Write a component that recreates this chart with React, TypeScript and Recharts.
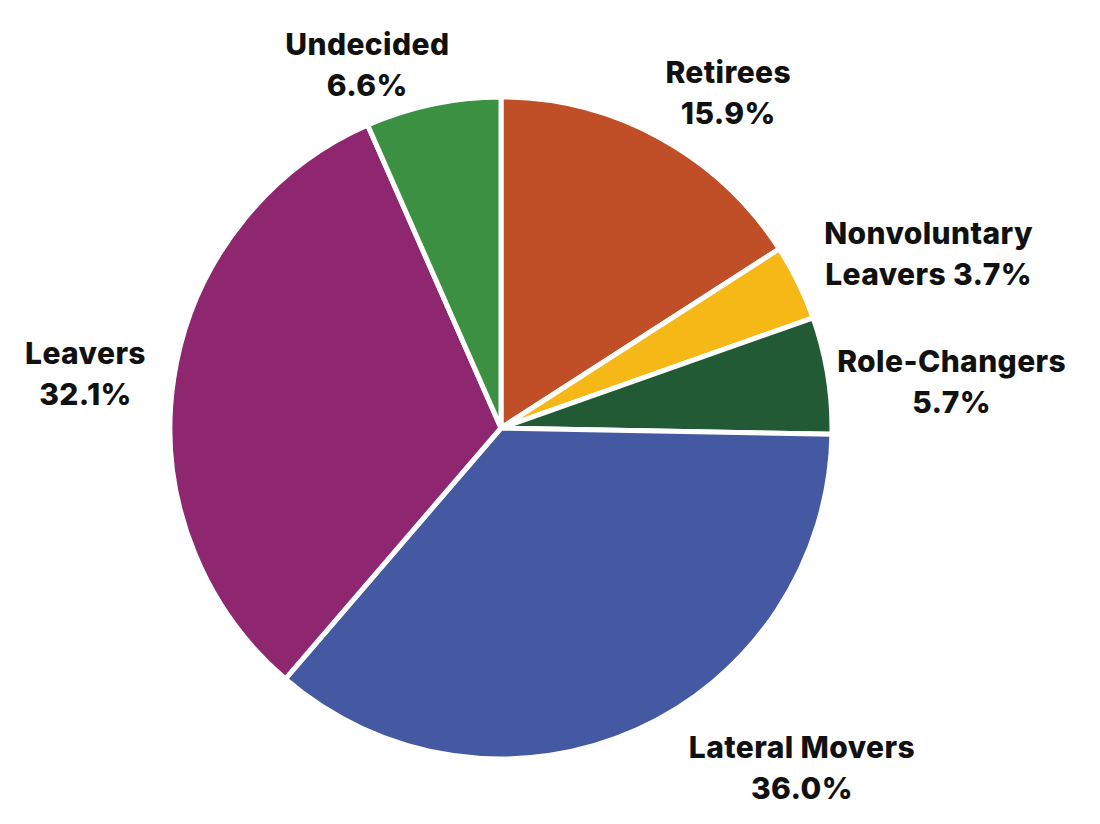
import React from "react";
import { PieChart, Pie, Cell } from "recharts";

const categories = [
  "Retirees",
  "Nonvoluntary Leavers",
  "Role-Changers",
  "Lateral Movers",
  "Leavers",
  "Undecided",
];
const shares = [15.9, 3.7, 5.7, 36.0, 32.1, 6.6];
const labelLines = [
  ["Retirees", "15.9%"],
  ["Nonvoluntary", "Leavers 3.7%"],
  ["Role-Changers", "5.7%"],
  ["Lateral Movers", "36.0%"],
  ["Leavers", "32.1%"],
  ["Undecided", "6.6%"],
];
const colors = ["#C04F27", "#F6B817", "#225A35", "#4559A3", "#8E276F", "#3C9042"];

// label placement nudges (pixels) relative to a point outside each slice
const labelNudge = [
  [28, 28],
  [54, 7],
  [40, 18],
  [131, -42],
  [-4, 5],
  [-48, 42],
];

const data = categories.map((name, i) => ({ name, value: shares[i] }));

const RAD = Math.PI / 180;

const renderLabel = (props: any) => {
  const { cx, cy, midAngle, outerRadius, index } = props;
  const r = outerRadius + 85;
  const x = cx + r * Math.cos(-midAngle * RAD) + labelNudge[index][0];
  const y = cy + r * Math.sin(-midAngle * RAD) + labelNudge[index][1];
  const lines = labelLines[index];
  return (
    <text
      x={x}
      y={y}
      textAnchor="middle"
      fill="#111"
      fontFamily="Inter, sans-serif"
      fontWeight={800}
      fontSize={30}
      letterSpacing={0.4}
    >
      <tspan x={x} dy={-8}>{lines[0]}</tspan>
      <tspan x={x} dy={41}>{lines[1]}</tspan>
    </text>
  );
};

export default function App() {
  return (
    <div style={{ position: "absolute", left: 0, top: 0, width: 1100, height: 824, background: "#fff" }}>
      <PieChart width={1100} height={824} margin={{ top: 0, right: 0, bottom: 0, left: 0 }}>
        <Pie
          data={data}
          dataKey="value"
          nameKey="name"
          cx={501}
          cy={428}
          outerRadius={331}
          startAngle={90}
          endAngle={-270}
          stroke="#ffffff"
          strokeWidth={5}
          label={renderLabel}
          labelLine={false}
          isAnimationActive={false}
        >
          {data.map((d, i) => (
            <Cell key={d.name} fill={colors[i]} />
          ))}
        </Pie>
      </PieChart>
    </div>
  );
}
